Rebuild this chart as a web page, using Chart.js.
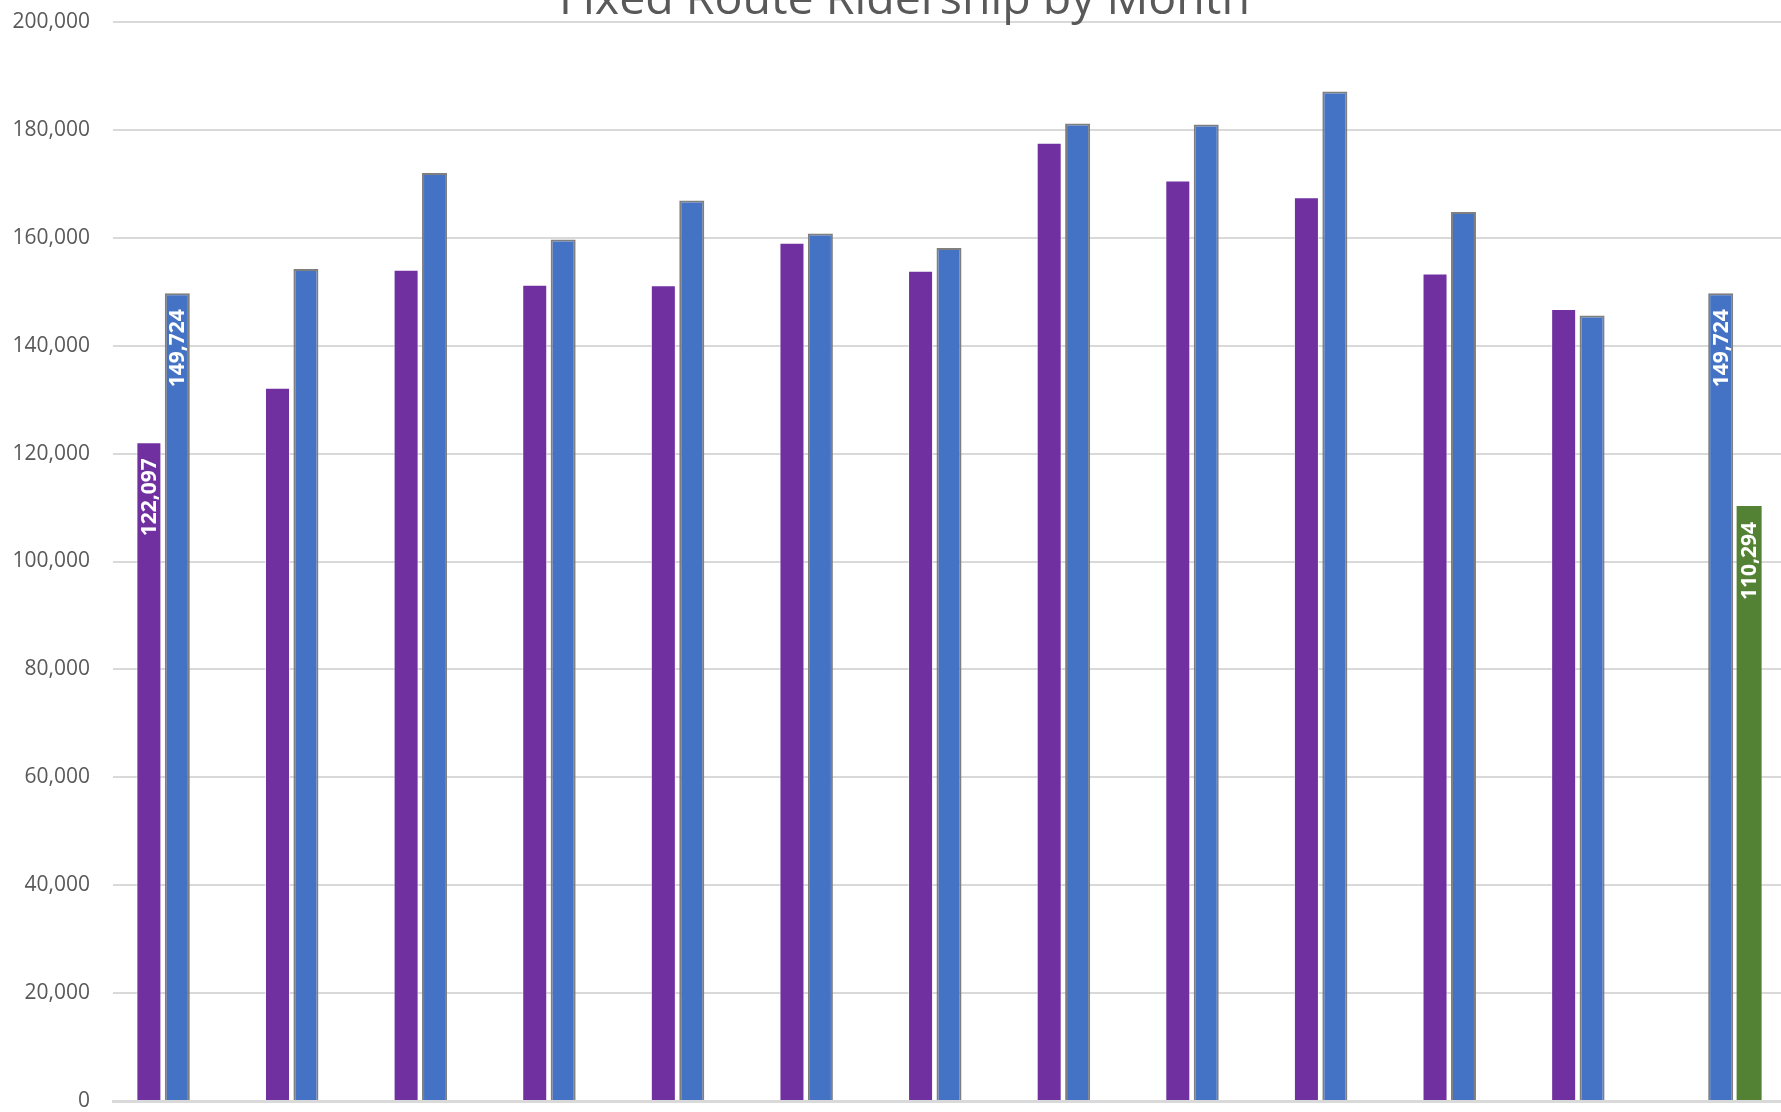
<!DOCTYPE html>
<html>
<head>
<meta charset="utf-8">
<title>Fixed Route Ridership by Month</title>
<script src="https://cdn.jsdelivr.net/npm/chart.js@4.4.1/dist/chart.umd.min.js"></script>
<style>
    html, body { margin: 0; padding: 0; background: #fff; overflow: hidden; }
    #wrap { position: relative; width: 1809px; height: 1120px; }
</style>
</head>
<body>
<div id="wrap"><canvas id="chart"></canvas></div>
<script>
// months (x labels are cut off in the picture)
const months = ['Jan', 'Feb', 'Mar', 'Apr', 'May', 'Jun', 'Jul', 'Aug', 'Sep', 'Oct', 'Nov', 'Dec', 'Jan'];
const seriesNames = ['2022', '2023', '2024'];

const ridersPurple = [122097, 132200, 154100, 151300, 151200, 159100, 153900, 177600, 170600, 167500, 153400, 146800, null];
const ridersBlue = [149724, 154200, 172000, 159700, 166900, 160800, 158100, 181200, 181000, 187100, 164800, 145600, 149724];
const ridersGreen = [null, null, null, null, null, null, null, null, null, null, null, null, 110294];

const yTicks = [0, 20000, 40000, 60000, 80000, 100000, 120000, 140000, 160000, 180000, 200000];

// [dataset, index] of the bars that carry a value label
const labelPoints = [[0, 0], [1, 0], [1, 12], [2, 12]];

const barLabels = {
    id: 'barLabels',
    afterDatasetsDraw(chart) {
        const ctx = chart.ctx;
        ctx.save();
        ctx.font = 'bold 21px "Open Sans"';
        ctx.fillStyle = '#ffffff';
        ctx.textAlign = 'right';
        ctx.textBaseline = 'middle';
        labelPoints.forEach(([ds, i]) => {
            const bar = chart.getDatasetMeta(ds).data[i];
            const v = chart.data.datasets[ds].data[i];
            if (!bar || v == null) return;
            ctx.save();
            ctx.translate(bar.x + 1, bar.y + 16);
            ctx.rotate(-Math.PI / 2);
            ctx.fillText(v.toLocaleString('en-US'), 0, 0);
            ctx.restore();
        });
        ctx.restore();
    }
};

function dibujar() {
    Chart.defaults.font.family = '"Open Sans", sans-serif';
    Chart.defaults.color = '#595959';

    new Chart(document.getElementById('chart'), {
        type: 'bar',
        data: {
            labels: months,
            datasets: [{
                label: seriesNames[0],
                data: ridersPurple,
                backgroundColor: '#7030a0',
                borderColor: 'rgba(255,255,255,0.55)',
                borderWidth: 1,
                borderSkipped: 'bottom'
            }, {
                label: seriesNames[1],
                data: ridersBlue,
                backgroundColor: '#4472c4',
                borderColor: '#7f7f7f',
                borderWidth: 2,
                borderSkipped: 'bottom'
            }, {
                label: seriesNames[2],
                data: ridersGreen,
                backgroundColor: '#548235',
                borderWidth: 0
            }]
        },
        options: {
            responsive: true,
            maintainAspectRatio: false,
            animation: false,
            categoryPercentage: 0.663,
            barPercentage: 0.88,
            layout: { padding: { left: 0, right: 0, top: 0, bottom: 11 } },
            plugins: {
                legend: { display: false },
                tooltip: { enabled: false },
                title: {
                    display: true,
                    text: 'Fixed Route Ridership by Month',
                    color: '#595959',
                    font: { size: 46.5, weight: 'normal' },
                    padding: { top: -27.5, bottom: -6.3 }
                }
            },
            scales: {
                x: {
                    ticks: { display: false },
                    grid: { display: false },
                    border: { display: true, color: '#d9d9d9', width: 3 }
                },
                y: {
                    min: 0,
                    max: 200000,
                    afterBuildTicks: (scale) => {
                        scale.ticks = yTicks.map(v => ({ value: v }));
                    },
                    afterFit: (scale) => {
                        scale.width = 113;
                        scale.paddingTop = 0;
                        scale.paddingBottom = 0;
                    },
                    ticks: {
                        padding: 23,
                        color: '#595959',
                        font: { size: 21 },
                        callback: (v) => v.toLocaleString('en-US')
                    },
                    grid: { color: '#d9d9d9', lineWidth: 2, drawTicks: false },
                    border: { display: false }
                },
                // empty strip on the right, only to leave room past the last bar
                yRight: {
                    position: 'right',
                    ticks: { display: false },
                    grid: { display: false },
                    border: { display: false },
                    afterFit: (scale) => {
                        scale.width = 24;
                    }
                }
            }
        },
        plugins: [barLabels]
    });
}

Promise.all([
    document.fonts.load('21px "Open Sans"'),
    document.fonts.load('bold 21px "Open Sans"'),
    document.fonts.load('46.5px "Open Sans"')
]).then(dibujar).catch(dibujar);
</script>
</body>
</html>
